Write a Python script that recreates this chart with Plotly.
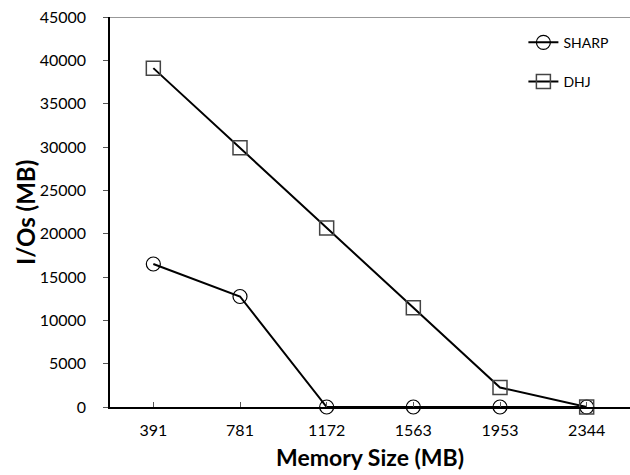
import plotly.graph_objects as go

categories = ["391", "781", "1172", "1563", "1953", "2344"]
sharp = [16500, 12750, 0, 0, 0, 0]
dhj = [39100, 29900, 20650, 11450, 2250, 0]
y_ticks = [0, 5000, 10000, 15000, 20000, 25000, 30000, 35000, 40000, 45000]
y_ticktext = [str(v) for v in y_ticks]

FONT = "Lato, Open Sans, sans-serif"

fig = go.Figure()
fig.add_trace(go.Scatter(
    x=categories, y=sharp, name="SHARP", mode="lines+markers",
    line=dict(color="black", width=2),
    marker=dict(symbol="circle-open", size=14, color="black", line=dict(width=1.2)),
    legendgroup="a", cliponaxis=False,
))
fig.add_trace(go.Scatter(
    x=categories, y=dhj, name="DHJ", mode="lines+markers",
    line=dict(color="black", width=2),
    marker=dict(symbol="square-open", size=14, color="#444", line=dict(width=1.5)),
    legendgroup="b", cliponaxis=False,
))

fig.add_shape(type="line", xref="paper", yref="y", x0=0, x1=1, y0=45000, y1=45000,
              line=dict(color="#333", width=1))

fig.add_annotation(text="<b>Memory Size (MB)</b>", xref="paper", yref="paper",
                   x=0.5, y=-0.127, xanchor="center", yanchor="middle", showarrow=False,
                   font=dict(size=23, family=FONT, color="black"))
fig.add_annotation(text="<b>I/Os (MB)</b>", xref="paper", yref="paper",
                   x=-0.1635, y=0.5, xanchor="center", yanchor="middle", showarrow=False,
                   textangle=-90, font=dict(size=24, family=FONT, color="black"))

fig.update_layout(
    width=630, height=475,
    margin=dict(l=110, r=0, t=17, b=68),
    plot_bgcolor="white", paper_bgcolor="white",
    font=dict(family=FONT, size=14, color="black"),
    showlegend=True,
    legend=dict(x=0.795, y=0.975, xanchor="left", yanchor="top",
                tracegroupgap=18, font=dict(size=14, family=FONT),
                bgcolor="rgba(0,0,0,0)", itemwidth=30),
    xaxis=dict(
        type="category", range=[-0.5, 5.5],
        showline=True, linecolor="black", linewidth=1.5,
        ticks="inside", ticklen=5, tickcolor="#555", tickwidth=1,
        showgrid=False, zeroline=False,
        tickfont=dict(size=16, family=FONT), ticklabelstandoff=8,
    ),
    yaxis=dict(
        range=[0, 45000], tickvals=y_ticks, ticktext=y_ticktext,
        showline=True, linecolor="black", linewidth=1.5,
        ticks="outside", ticklen=5, tickcolor="#555", tickwidth=1,
        showgrid=False, zeroline=False,
        tickfont=dict(size=16, family=FONT), ticklabelstandoff=14,
    ),
)

fig.write_html("out.html")
